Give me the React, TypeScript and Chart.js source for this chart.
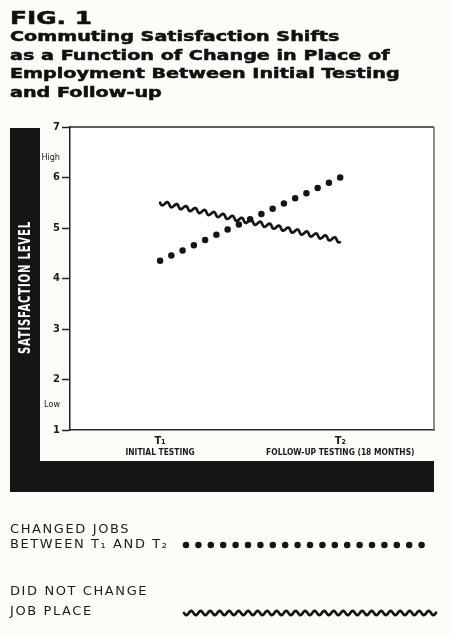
import React, { useEffect, useRef } from 'react';
import { Chart, registerables } from 'chart.js';

Chart.register(...registerables);

// ---- data ----
const TIMES = [1, 2];
const TIME_MARKS = ['T₁', 'T₂'];
const TIME_LABELS = ['INITIAL TESTING', 'FOLLOW-UP TESTING (18 MONTHS)'];
const CHANGED_JOBS = [4.35, 6.0];
const SAME_JOB = [5.5, 4.75];
const SERIES_LABELS = [
  ['CHANGED JOBS', 'BETWEEN T₁ AND T₂'],
  ['DID NOT CHANGE', 'JOB PLACE'],
];
const Y_TICKS = [1, 1.5, 2, 3, 4, 5, 6, 6.4, 7];
const Y_WORD_TICKS: Record<string, string> = { '1.5': 'Low', '6.4': 'High' };
const Y_TITLE = 'SATISFACTION LEVEL';
const FIG_TITLE = 'FIG. 1';
const FIG_SUBTITLE = [
  'Commuting Satisfaction Shifts',
  'as a Function of Change in Place of',
  'Employment Between Initial Testing',
  'and Follow-up',
];

// ---- styles ----
const INK = '#151515';
const COND = '"DejaVu Sans Condensed", "DejaVu Sans", sans-serif';
const SANS = '"DejaVu Sans", sans-serif';
const WAVE_LENGTH = 9.5;
const WAVE_AMP = 2.1;
const LEGEND_ROWS = [
  [530, 545],
  [592, 612],
];
const LEGEND_SAMPLE_X = [184, 436];

function strokeWave(
  ctx: CanvasRenderingContext2D,
  x0: number, y0: number, x1: number, y1: number,
  width: number,
) {
  const dx = x1 - x0;
  const dy = y1 - y0;
  const len = Math.hypot(dx, dy);
  const ux = dx / len;
  const uy = dy / len;
  const nx = -uy;
  const ny = ux;
  ctx.save();
  ctx.strokeStyle = INK;
  ctx.lineWidth = width;
  ctx.lineJoin = 'round';
  ctx.lineCap = 'round';
  ctx.beginPath();
  for (let s = 0; s <= len; s += 0.5) {
    const o = WAVE_AMP * Math.sin((2 * Math.PI * s) / WAVE_LENGTH);
    const px = x0 + ux * s + nx * o;
    const py = y0 + uy * s + ny * o;
    if (s === 0) ctx.moveTo(px, py);
    else ctx.lineTo(px, py);
  }
  ctx.stroke();
  ctx.restore();
}

const figurePlugin = {
  id: 'figureFrame',
  beforeDraw(chart: any) {
    const { ctx, chartArea: a } = chart;
    ctx.save();
    ctx.fillStyle = '#ffffff';
    ctx.fillRect(a.left, a.top, a.right - a.left, a.bottom - a.top);

    // black L-shaped band
    const barLeft = 10;
    const barW = 30;
    const barTop = a.top + 1;
    const footTop = a.bottom + 31;
    const footBottom = a.bottom + 62;
    ctx.fillStyle = INK;
    ctx.fillRect(barLeft, barTop, barW, footBottom - barTop);
    ctx.fillRect(barLeft, footTop, a.right - barLeft, footBottom - footTop);

    // vertical axis title, reversed out of the band
    ctx.translate(barLeft + barW / 2, a.top + (a.bottom - a.top) * 0.53);
    ctx.rotate(-Math.PI / 2);
    ctx.font = `bold 15px ${COND}`;
    (ctx as any).letterSpacing = '1px';
    const w = ctx.measureText(Y_TITLE).width;
    ctx.scale(133 / w, 1);
    ctx.fillStyle = '#ffffff';
    ctx.textAlign = 'center';
    ctx.textBaseline = 'middle';
    ctx.fillText(Y_TITLE, 0, 1);
    ctx.restore();
  },
  afterDatasetsDraw(chart: any) {
    chart.data.datasets.forEach((ds: any, i: number) => {
      if (!ds.wavy) return;
      const pts = chart.getDatasetMeta(i).data;
      for (let k = 0; k < pts.length - 1; k++) {
        strokeWave(chart.ctx, pts[k].x, pts[k].y, pts[k + 1].x, pts[k + 1].y, ds.waveWidth);
      }
    });
  },
  afterDraw(chart: any) {
    const { ctx, chartArea: a } = chart;
    ctx.save();
    // top and right edges of the plot box
    ctx.strokeStyle = '#2a2a2a';
    ctx.lineWidth = 1.5;
    ctx.beginPath();
    ctx.moveTo(a.left, a.top);
    ctx.lineTo(a.right, a.top);
    ctx.stroke();
    ctx.strokeStyle = '#6a6a6a';
    ctx.beginPath();
    ctx.moveTo(a.right, a.top);
    ctx.lineTo(a.right, a.bottom);
    ctx.stroke();

    // legend
    ctx.fillStyle = '#1c1c1c';
    ctx.font = `13px ${SANS}`;
    (ctx as any).letterSpacing = '1.6px';
    ctx.textAlign = 'left';
    ctx.textBaseline = 'middle';
    chart.data.datasets.forEach((ds: any, i: number) => {
      const rows = LEGEND_ROWS[i];
      SERIES_LABELS[i].forEach((line, j) => ctx.fillText(line, 10, rows[j]));
      const y = rows[rows.length - 1];
      if (ds.wavy) {
        strokeWave(ctx, LEGEND_SAMPLE_X[0], y + 1, LEGEND_SAMPLE_X[1], y + 1, ds.waveWidth);
      } else {
        ctx.save();
        ctx.strokeStyle = ds.borderColor;
        ctx.lineWidth = ds.borderWidth;
        ctx.lineCap = 'round';
        ctx.setLineDash(ds.borderDash);
        ctx.beginPath();
        ctx.moveTo(LEGEND_SAMPLE_X[0] + 2, y);
        ctx.lineTo(LEGEND_SAMPLE_X[1] - 4, y);
        ctx.stroke();
        ctx.restore();
      }
    });
    ctx.restore();
  },
};

const timeAxis = (labels: string[], height: number, size: number, pad: number, border: boolean, weight: number) => ({
  type: 'linear',
  position: 'bottom',
  weight,
  min: 0.5,
  max: 2.52,
  afterBuildTicks: (s: any) => {
    s.ticks = TIMES.map((v) => ({ value: v }));
  },
  afterFit: (s: any) => {
    s.height = height;
  },
  grid: { drawOnChartArea: false, drawTicks: false },
  border: { display: border, color: '#2a2a2a', width: 1.5 },
  ticks: {
    autoSkip: false,
    maxRotation: 0,
    padding: pad,
    color: '#1a1a1a',
    font: { family: COND, size, weight: 'bold' },
    callback: (v: any) => labels[TIMES.indexOf(Number(v))] ?? '',
  },
});

export default function App() {
  const ref = useRef<HTMLCanvasElement>(null);

  useEffect(() => {
    const chart = new Chart(ref.current as HTMLCanvasElement, {
      type: 'line',
      data: {
        datasets: [
          {
            label: SERIES_LABELS[0].join(' '),
            data: TIMES.map((t, i) => ({ x: t, y: CHANGED_JOBS[i] })),
            borderColor: INK,
            borderWidth: 6.5,
            borderDash: [0, 12.4],
            borderCapStyle: 'round',
            pointRadius: 0,
            fill: false,
          } as any,
          {
            label: SERIES_LABELS[1].join(' '),
            data: TIMES.map((t, i) => ({ x: t, y: SAME_JOB[i] })),
            showLine: false,
            pointRadius: 0,
            borderColor: INK,
            wavy: true,
            waveWidth: 2.7,
          } as any,
        ],
      },
      options: {
        responsive: false,
        devicePixelRatio: 1,
        animation: false,
        events: [],
        layout: { padding: { left: 10, top: 127, right: 16, bottom: 176 } },
        plugins: {
          legend: { display: false },
          tooltip: { enabled: false },
          title: { display: false },
        },
        scales: {
          x: timeAxis(TIME_MARKS, 15, 11, 5, true, 0),
          xText: timeAxis(TIME_LABELS, 15, 8.4, 3, false, 1),
          y: {
            type: 'linear',
            min: 1,
            max: 7,
            afterBuildTicks: (s: any) => {
              s.ticks = Y_TICKS.map((v) => ({ value: v }));
            },
            afterFit: (s: any) => {
              s.width = 60;
            },
            grid: {
              drawOnChartArea: false,
              drawTicks: true,
              tickLength: 8,
              tickWidth: 1.5,
              tickColor: (c: any) =>
                c.tick && Y_WORD_TICKS[String(c.tick.value)] ? 'rgba(0,0,0,0)' : '#222',
            },
            border: { display: true, color: '#222', width: 1.5 },
            ticks: {
              padding: 2,
              color: '#1a1a1a',
              font: (c: any) =>
                c.tick && Y_WORD_TICKS[String(c.tick.value)]
                  ? { family: COND, size: 9, weight: 'normal' }
                  : { family: COND, size: 11, weight: 'bold' },
              callback: (v: any) => Y_WORD_TICKS[String(v)] ?? String(v),
            },
          },
        },
      } as any,
      plugins: [figurePlugin],
    });
    return () => chart.destroy();
  }, []);

  const titleLine = (top: number, size: number): React.CSSProperties => ({
    position: 'absolute',
    left: 10,
    top,
    fontFamily: SANS,
    fontWeight: 'bold',
    fontSize: size,
    lineHeight: `${size}px`,
    whiteSpace: 'nowrap',
    color: '#111',
    WebkitTextStroke: '0.5px #111',
    transform: 'scaleX(1.42)',
    transformOrigin: '0 0',
  });

  return (
    <div
      style={{
        position: 'absolute',
        left: 0,
        top: 0,
        width: 450,
        height: 636,
        background: '#fcfcf8',
        overflow: 'hidden',
      }}
    >
      <canvas ref={ref} width={450} height={636} style={{ position: 'absolute', left: 0, top: 0 }} />
      <div style={titleLine(10, 17.5)}>{FIG_TITLE}</div>
      {FIG_SUBTITLE.map((line, i) => (
        <div key={i} style={titleLine(30.3 + i * 18.4, 13.5)}>
          {line}
        </div>
      ))}
    </div>
  );
}
